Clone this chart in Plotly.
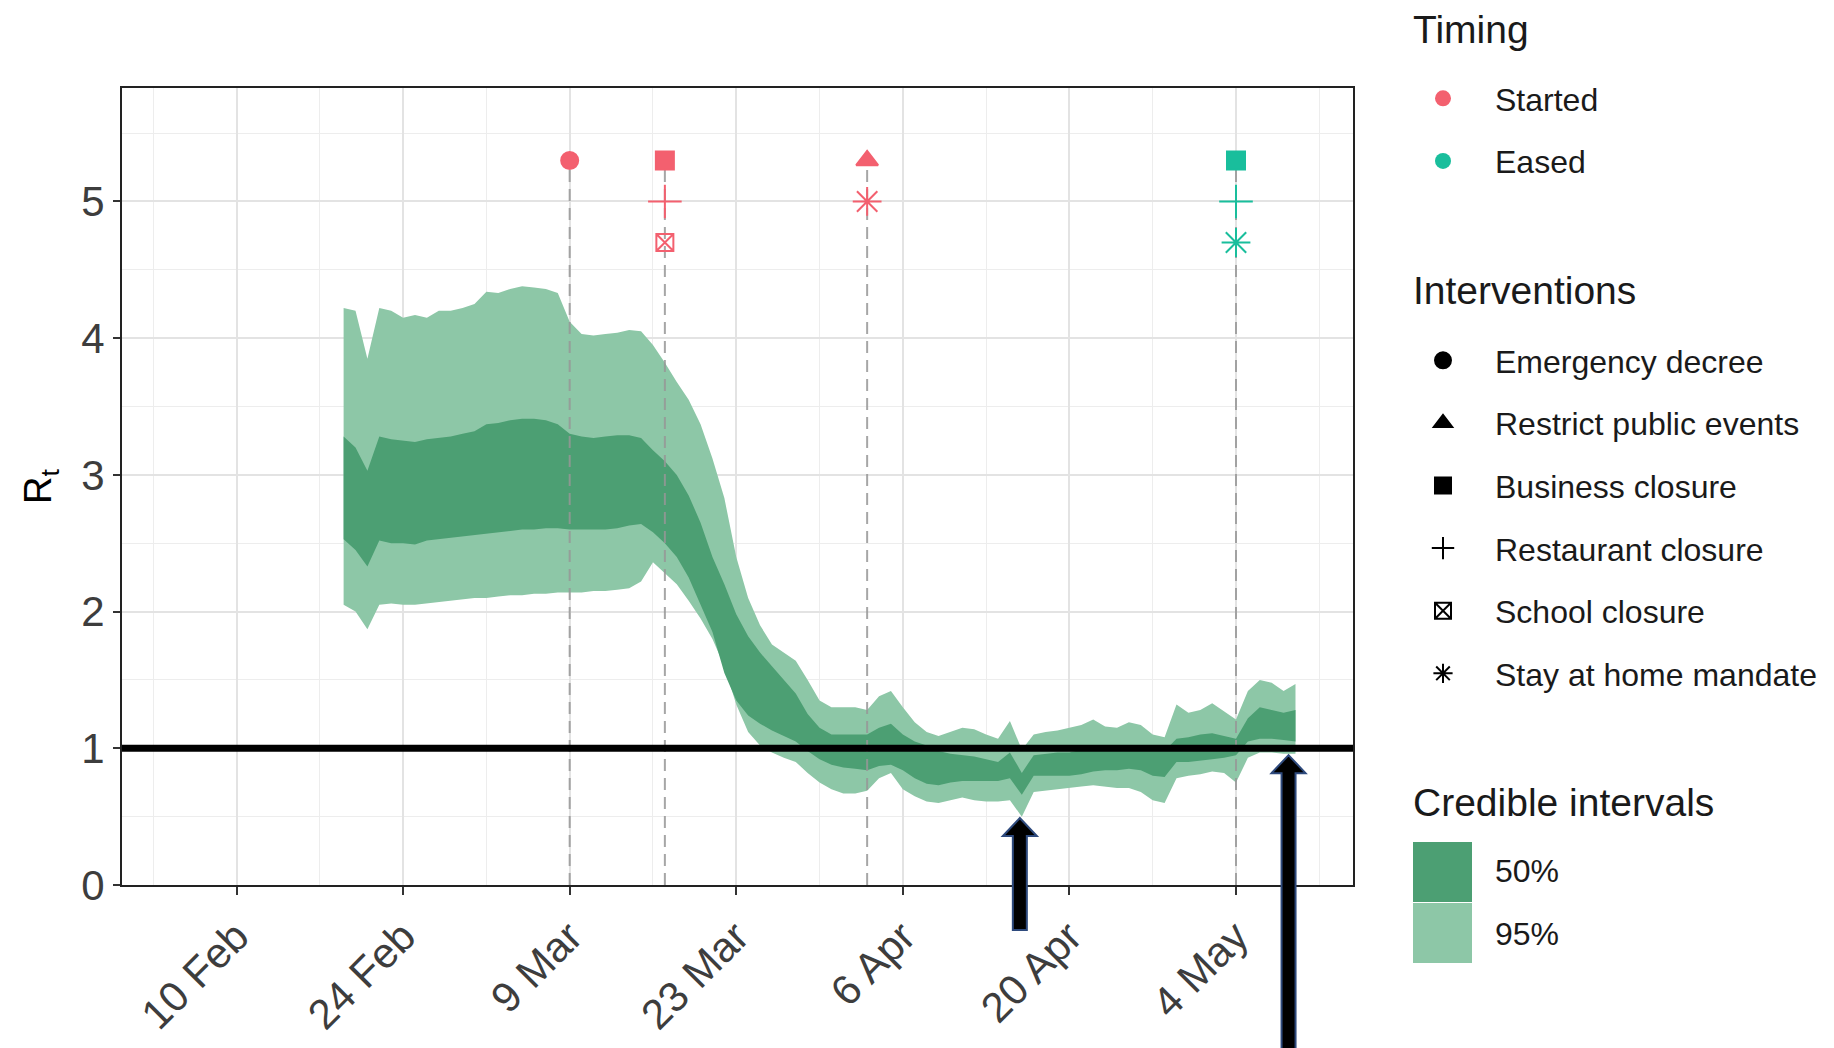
import pandas as pd
import plotly.graph_objects as go

# ---------------- data ----------------
dates = pd.date_range("2020-02-19", "2020-05-09", freq="D")

upper95 = [4.22, 4.20, 3.85, 4.22, 4.20, 4.15, 4.17, 4.15, 4.20, 4.20, 4.22,
           4.25, 4.34, 4.33, 4.36, 4.38, 4.37, 4.36, 4.33, 4.12, 4.03, 4.02, 4.03, 4.04, 4.06, 4.05,
           3.95, 3.82, 3.68, 3.55, 3.37, 3.12, 2.83, 2.40, 2.10, 1.90, 1.76, 1.70, 1.64, 1.50, 1.35, 1.30,
           1.30, 1.30, 1.28, 1.38, 1.42, 1.30, 1.19, 1.12, 1.09, 1.12, 1.15, 1.14, 1.10, 1.07, 1.20,
           0.99, 1.10, 1.12, 1.13, 1.15, 1.17, 1.21, 1.16, 1.15, 1.19, 1.17, 1.10, 1.08, 1.32, 1.26,
           1.28, 1.33, 1.27, 1.21, 1.42, 1.50, 1.48, 1.42, 1.47]
upper50 = [3.28, 3.20, 3.03, 3.28, 3.26, 3.25, 3.24, 3.26, 3.27, 3.28, 3.30,
           3.32, 3.37, 3.38, 3.40, 3.41, 3.41, 3.40, 3.37, 3.30, 3.28, 3.27, 3.28, 3.29, 3.29, 3.27,
           3.18, 3.10, 3.00, 2.85, 2.65, 2.40, 2.20, 1.98, 1.82, 1.70, 1.60, 1.50, 1.40, 1.25, 1.15, 1.10,
           1.10, 1.10, 1.10, 1.15, 1.18, 1.10, 1.05, 1.02, 0.98, 0.96, 0.95, 0.94, 0.92, 0.90, 0.97,
           0.82, 0.95, 0.96, 0.97, 0.97, 0.99, 1.00, 0.99, 0.99, 1.00, 1.00, 0.99, 0.98, 1.07, 1.08,
           1.10, 1.11, 1.09, 1.07, 1.22, 1.30, 1.28, 1.26, 1.28]
lower50 = [2.53, 2.45, 2.33, 2.52, 2.50, 2.50, 2.49, 2.52, 2.53, 2.54, 2.55,
           2.56, 2.57, 2.58, 2.59, 2.60, 2.60, 2.61, 2.61, 2.60, 2.60, 2.60, 2.60, 2.61, 2.63, 2.64,
           2.58, 2.50, 2.40, 2.25, 2.05, 1.85, 1.55, 1.35, 1.24, 1.18, 1.13, 1.09, 1.05, 0.98, 0.92, 0.88,
           0.86, 0.85, 0.84, 0.87, 0.88, 0.84, 0.78, 0.74, 0.73, 0.75, 0.76, 0.76, 0.76, 0.76, 0.78,
           0.66, 0.80, 0.80, 0.80, 0.80, 0.81, 0.83, 0.84, 0.84, 0.85, 0.84, 0.80, 0.79, 0.90, 0.90,
           0.91, 0.92, 0.93, 0.95, 1.05, 1.07, 1.07, 1.06, 1.05]
lower95 = [2.05, 2.00, 1.87, 2.05, 2.06, 2.05, 2.05, 2.06, 2.07, 2.08, 2.09,
           2.10, 2.10, 2.11, 2.12, 2.12, 2.13, 2.13, 2.14, 2.14, 2.14, 2.15, 2.15, 2.16, 2.17, 2.22,
           2.36, 2.28, 2.20, 2.08, 1.95, 1.80, 1.60, 1.32, 1.12, 1.02, 0.97, 0.93, 0.90, 0.82, 0.75, 0.70,
           0.67, 0.67, 0.69, 0.78, 0.82, 0.70, 0.65, 0.61, 0.60, 0.62, 0.64, 0.62, 0.61, 0.61, 0.62,
           0.50, 0.68, 0.69, 0.70, 0.71, 0.72, 0.73, 0.72, 0.71, 0.71, 0.68, 0.62, 0.60, 0.78, 0.80,
           0.81, 0.83, 0.82, 0.75, 0.93, 0.97, 0.97, 0.96, 0.96]

interv_dates = ["2020-03-09", "2020-03-17", "2020-03-17", "2020-03-17",
                "2020-04-03", "2020-04-03", "2020-05-04", "2020-05-04", "2020-05-04"]
interv_types = ["Emergency decree", "Business closure", "Restaurant closure", "School closure",
                "Restrict public events", "Stay at home mandate",
                "Business closure", "Restaurant closure", "Stay at home mandate"]
interv_timing = ["Started", "Started", "Started", "Started", "Started", "Started",
                 "Eased", "Eased", "Eased"]
interv_level = [5.3, 5.3, 5.0, 4.7, 5.3, 5.0, 5.3, 5.0, 4.7]

intervention_names = ["Emergency decree", "Restrict public events", "Business closure",
                      "Restaurant closure", "School closure", "Stay at home mandate"]
timing_names = ["Started", "Eased"]
ci_names = ["50%", "95%"]

tick_dates = ["2020-02-10", "2020-02-24", "2020-03-09", "2020-03-23",
              "2020-04-06", "2020-04-20", "2020-05-04"]
tick_labels = ["10 Feb", "24 Feb", "9 Mar", "23 Mar", "6 Apr", "20 Apr", "4 May"]
minor_dates = ["2020-02-03", "2020-02-17", "2020-03-02", "2020-03-16",
               "2020-03-30", "2020-04-13", "2020-04-27", "2020-05-11"]

# arrow annotations (date, value the tip points to)
arrow_dates = ["2020-04-15 20:00", "2020-05-08 10:00"]
arrow_tips = [0.49, 0.95]

# ---------------- styles ----------------
FONT = "Liberation Sans, Arial, sans-serif"
C_STARTED = "#F3606F"
C_EASED = "#19BE9C"
C_95 = "#8DC7A7"
C_50 = "#4C9F73"
timing_color = {"Started": C_STARTED, "Eased": C_EASED}
symbol_map = {"Emergency decree": "circle", "Restrict public events": "triangle-up",
              "Business closure": "square", "Restaurant closure": "cross-thin-open",
              "School closure": "square-x-open", "Stay at home mandate": "asterisk-open"}
size_map = {"Emergency decree": 17, "Restrict public events": 19, "Business closure": 18,
            "Restaurant closure": 24, "School closure": 17, "Stay at home mandate": 24}

W, H = 1834, 1048
ML, MR, MT, MB = 122, 481, 88, 163
PW, PH = W - ML - MR, H - MT - MB
XR = [pd.Timestamp("2020-01-31 09:00"), pd.Timestamp("2020-05-13 20:00")]
YR = [0, 5.83]


def px_x(X):
    return (X - ML) / PW


def px_y(Y):
    return (H - MB - Y) / PH


def date_to_paper(d):
    d = pd.Timestamp(d)
    return (d - XR[0]) / (XR[1] - XR[0])


fig = go.Figure()

x_list = list(dates)
# 95% ribbon
fig.add_trace(go.Scatter(x=x_list + x_list[::-1], y=upper95 + lower95[::-1], fill="toself",
                         fillcolor=C_95, line=dict(width=0), mode="lines",
                         hoverinfo="skip", showlegend=False))
# 50% ribbon
fig.add_trace(go.Scatter(x=x_list + x_list[::-1], y=upper50 + lower50[::-1], fill="toself",
                         fillcolor=C_50, line=dict(width=0), mode="lines",
                         hoverinfo="skip", showlegend=False))

# dashed intervention lines
for d in sorted(set(interv_dates)):
    top = max(l for dd, l in zip(interv_dates, interv_level) if dd == d)
    fig.add_trace(go.Scatter(x=[d, d], y=[0, top], mode="lines",
                             line=dict(color="rgba(150,150,150,0.85)", width=2, dash="12px,7px"),
                             hoverinfo="skip", showlegend=False))

# intervention markers
for d, t, tm, lv in zip(interv_dates, interv_types, interv_timing, interv_level):
    col = timing_color[tm]
    fig.add_trace(go.Scatter(x=[d], y=[lv], mode="markers",
                             marker=dict(symbol=symbol_map[t], size=size_map[t], color=col,
                                         line=dict(color=col, width=2)),
                             name=t, showlegend=False))

# legend: Timing
for i, nm in enumerate(timing_names):
    fig.add_trace(go.Scatter(x=[None], y=[None], mode="markers", name=nm,
                             marker=dict(symbol="circle", size=16, color=timing_color[nm]),
                             legend="legend", legendgroup="t" + str(i)))
# legend: Interventions
for i, nm in enumerate(intervention_names):
    fig.add_trace(go.Scatter(x=[None], y=[None], mode="markers", name=nm,
                             marker=dict(symbol=symbol_map[nm], size=16,
                                         color="black", line=dict(color="black", width=2)),
                             legend="legend2", legendgroup="i" + str(i)))

shapes = []
# R=1 line
shapes.append(dict(type="line", xref="paper", yref="y", x0=0, x1=1, y0=1, y1=1,
                   line=dict(color="black", width=7), layer="above"))

# arrows
sw, hw, hh = 7, 17, 18
arrow_bottoms = [930, 1060]
for d, tip, bot in zip(arrow_dates, arrow_tips, arrow_bottoms):
    cx = date_to_paper(d)
    ty = tip / YR[1]
    by = px_y(bot)
    dsw, dhw, dhh = sw / PW, hw / PW, hh / PH
    path = (f"M {cx-dsw},{by} L {cx-dsw},{ty-dhh} L {cx-dhw},{ty-dhh} L {cx},{ty} "
            f"L {cx+dhw},{ty-dhh} L {cx+dsw},{ty-dhh} L {cx+dsw},{by} Z")
    shapes.append(dict(type="path", xref="paper", yref="paper", path=path,
                       fillcolor="black", line=dict(color="#2E4A7D", width=2), layer="above"))

# credible-interval legend swatches
ci_cols = [C_50, C_95]
ci_tops = [842, 903]
for c, tp in zip(ci_cols, ci_tops):
    shapes.append(dict(type="rect", xref="paper", yref="paper",
                       x0=px_x(1413), x1=px_x(1472), y0=px_y(tp), y1=px_y(tp + 60),
                       fillcolor=c, line=dict(width=0), layer="above"))

annotations = []
for txt, yc in [("Timing", 29), ("Interventions", 290), ("Credible intervals", 802)]:
    annotations.append(dict(text=txt, xref="paper", yref="paper", x=px_x(1411), y=px_y(yc),
                            xanchor="left", yanchor="middle", showarrow=False,
                            font=dict(family=FONT, size=39, color="#1a1a1a")))
for txt, yc in zip(ci_names, [871, 934]):
    annotations.append(dict(text=txt, xref="paper", yref="paper", x=px_x(1493), y=px_y(yc),
                            xanchor="left", yanchor="middle", showarrow=False,
                            font=dict(family=FONT, size=32, color="#1a1a1a")))

legend_common = dict(xanchor="left", yanchor="top", bgcolor="rgba(0,0,0,0)",
                     font=dict(family=FONT, size=32, color="#1a1a1a"),
                     itemwidth=94, tracegroupgap=18, traceorder="grouped",
                     itemclick=False, itemdoubleclick=False)

fig.update_layout(
    width=W, height=H, autosize=False,
    margin=dict(l=ML, r=MR, t=MT, b=MB),
    paper_bgcolor="white", plot_bgcolor="white",
    font=dict(family=FONT, color="#333"),
    shapes=shapes, annotations=annotations,
    legend=dict(x=px_x(1391), y=px_y(71), **legend_common),
    legend2=dict(x=px_x(1391), y=px_y(333), **legend_common),
    xaxis=dict(type="date", range=XR, tickvals=tick_dates, ticktext=tick_labels,
               tickangle=-45, tickfont=dict(family=FONT, size=42, color="#3d3d3d"),
               ticks="outside", ticklen=8, tickwidth=2, tickcolor="#333",
               showgrid=True, gridcolor="#E3E3E3", gridwidth=2,
               minor=dict(tickvals=minor_dates, showgrid=True, gridcolor="#EDEDED", gridwidth=1),
               showline=True, linecolor="#222", linewidth=2, mirror=True, zeroline=False,
               automargin=False),
    yaxis=dict(range=YR, tickvals=[0, 1, 2, 3, 4, 5],
               tickfont=dict(family=FONT, size=42, color="#3d3d3d"),
               ticks="outside", ticklen=7, tickwidth=2, tickcolor="#333",
               showgrid=True, gridcolor="#E3E3E3", gridwidth=2,
               minor=dict(tickvals=[0.5, 1.5, 2.5, 3.5, 4.5, 5.5], showgrid=True,
                          gridcolor="#EDEDED", gridwidth=1),
               showline=True, linecolor="#222", linewidth=2, mirror=True, zeroline=False,
               title=dict(text="R<sub>t</sub>", font=dict(family=FONT, size=38, color="black"),
                          standoff=18),
               automargin=False),
)

fig.write_html("out.html")
